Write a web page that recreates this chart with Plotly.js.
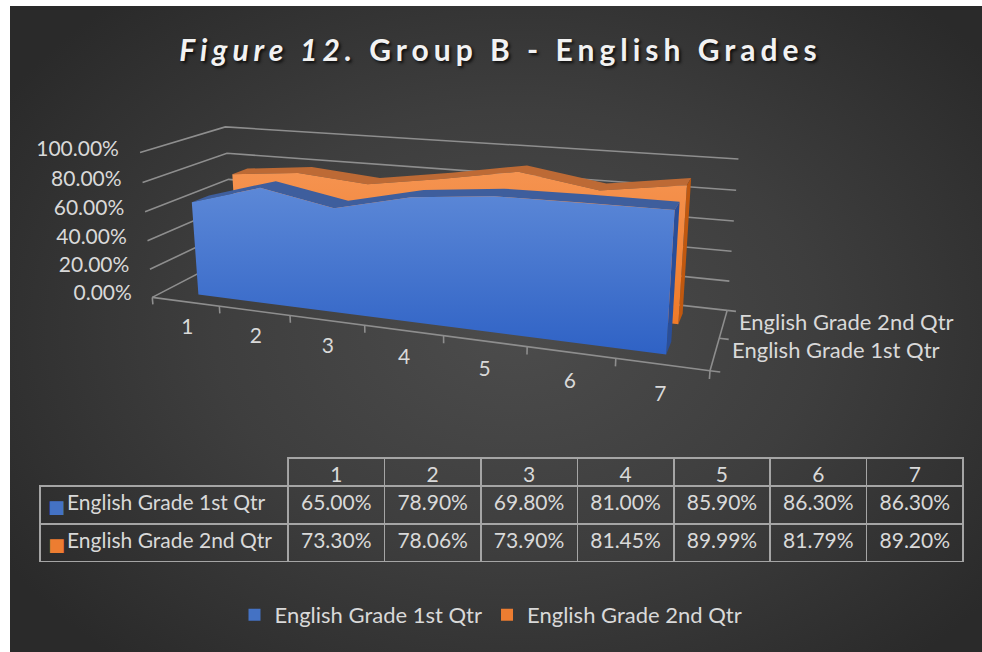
<!DOCTYPE html>
<html>
<head>
<meta charset="utf-8">
<script src="https://cdn.plot.ly/plotly-3.0.1.min.js"></script>
<style>
  html, body { margin:0; padding:0; background:#ffffff; overflow:hidden; }
  #bg { position:absolute; left:10px; top:6px; width:972px; height:646px;
    background: radial-gradient(ellipse 62% 68% at 52% 50%, #4c4c4c 0%, #3e3e3e 50%, #2a2a2a 100%); }
  #chart { position:absolute; left:0; top:0; width:982px; height:652px; }
  .gtitle { letter-spacing: 5px; }
</style>
</head>
<body>
<div id="bg"></div>
<div id="chart"></div>
<script>
// ---------------- data ----------------
const categories = ['1', '2', '3', '4', '5', '6', '7'];
const seriesNames = ['English Grade 1st Qtr', 'English Grade 2nd Qtr'];
const q1Values = [0.65, 0.789, 0.698, 0.81, 0.859, 0.863, 0.863];
const q2Values = [0.733, 0.7806, 0.739, 0.8145, 0.8999, 0.8179, 0.892];
const valueTicks = [0, 0.2, 0.4, 0.6, 0.8, 1.0];

// ---------------- styles / layout constants ----------------
const BLUE = {light:'#5c88d7', dark:'#2f62c5', top:'#3e5e9d', cap:'#2a4e98', legend:'#4472c4'};
const ORANGE = {light:'#f59350', dark:'#ef7a28', top:'#bd6a35', cap:'#c0580f', legend:'#ed7d31'};
const TEXT = '#d9d9d9';
const GRID = '#8e8e8e';
const CLEAR = 'rgba(0,0,0,0)';
const FONT = 'Lato, "Open Sans", sans-serif';
const W = 982, H = 652;
// depth slots of the two ribbons (box depth 0 = front, 1 = back)
const DEPTH = [[0.15, 0.35], [0.65, 0.85]];
const DEPTH_LABEL = [0.3, 0.77];

// calibration of the 3-D box: [u (category), w (depth), h (value), px, py]
const CAL = [
  [0,0,0, 151.7,295], [0,0,1, 140.7,151.7], [0,1,1, 225,128.3], [1,1,1, 738.3,159],
  [1,1,0, 727.5,309], [1,0,0, 708,372],
  [0,1,0.8, 226.7,154.3], [0,1,0.6, 228.3,180.7],
  [1,1,0.8, 736.7,190], [1,1,0.6, 734,220.7], [1,1,0.4, 731.7,250], [1,1,0.2, 729.3,280],
  [0,0,0.8, 142.7,181.7], [0,0,0.6, 145,210.7], [0,0,0.4, 146.7,240],
  [1/7,0,0, 219.5,306], [2/7,0,0, 291,316], [3/7,0,0, 365.7,326], [4/7,0,0, 444.5,337],
  [5/7,0,0, 527.7,348], [6/7,0,0, 614.7,360]
];

function fitCamera(cal) {
  const n = 11, M = Array.from({length: n}, () => new Array(n + 1).fill(0));
  const rows = [];
  cal.forEach(([X, Y, Z, x, y]) => {
    rows.push([[X, Y, Z, 1, 0, 0, 0, 0, -x * X, -x * Y, -x * Z], x]);
    rows.push([[0, 0, 0, 0, X, Y, Z, 1, -y * X, -y * Y, -y * Z], y]);
  });
  rows.forEach(([a, b]) => {
    for (let i = 0; i < n; i++) {
      for (let j = 0; j < n; j++) M[i][j] += a[i] * a[j];
      M[i][n] += a[i] * b;
    }
  });
  for (let c = 0; c < n; c++) {
    let p = c;
    for (let r = c + 1; r < n; r++) if (Math.abs(M[r][c]) > Math.abs(M[p][c])) p = r;
    const t = M[c]; M[c] = M[p]; M[p] = t;
    for (let r = 0; r < n; r++) {
      if (r === c) continue;
      const f = M[r][c] / M[c][c];
      for (let k = c; k <= n; k++) M[r][k] -= f * M[c][k];
    }
  }
  const p = M.map((row, i) => row[n] / row[i]);
  return (X, Y, Z) => {
    const d = p[8] * X + p[9] * Y + p[10] * Z + 1;
    return [(p[0] * X + p[1] * Y + p[2] * Z + p[3]) / d, (p[4] * X + p[5] * Y + p[6] * Z + p[7]) / d];
  };
}
const P = fitCamera(CAL);
const catU = i => (i + 0.5) / categories.length;

function path(points) { // points: list of [u,w,h] or null
  const x = [], y = [];
  points.forEach(pt => {
    if (pt === null) { x.push(null); y.push(null); return; }
    const q = P(pt[0], pt[1], pt[2]); x.push(q[0]); y.push(q[1]);
  });
  return {x, y};
}
function lineTrace(points, color, width) {
  const p = path(points);
  return {type:'scatter', mode:'lines', x:p.x, y:p.y, line:{color, width}, hoverinfo:'skip', showlegend:false, connectgaps:false};
}
function polyTrace(points, color, gradient) {
  const p = path(points);
  const t = {type:'scatter', mode:'lines', x:p.x, y:p.y, fill:'toself', fillcolor:color,
    line:{width:0, color:CLEAR}, hoverinfo:'skip', showlegend:false};
  if (gradient) t.fillgradient = {type:'vertical', colorscale:[[0, gradient[0]], [1, gradient[1]]]};
  return t;
}
function ribbonTraces(vals, depth, col) {
  const [w0, w1] = depth, n = vals.length, out = [];
  // top surface
  const top = [];
  for (let i = 0; i < n - 1; i++) {
    top.push([catU(i), w0, vals[i]], [catU(i + 1), w0, vals[i + 1]], [catU(i + 1), w1, vals[i + 1]], [catU(i), w1, vals[i]], null);
  }
  out.push(polyTrace(top, col.top));
  // right end cap
  const last = n - 1;
  out.push(polyTrace([[catU(last), w0, 0], [catU(last), w1, 0], [catU(last), w1, vals[last]], [catU(last), w0, vals[last]]], col.cap));
  // front face (vertical gradient, lighter at the top)
  const front = [];
  for (let i = 0; i < n; i++) front.push([catU(i), w0, 0]);
  for (let i = n - 1; i >= 0; i--) front.push([catU(i), w0, vals[i]]);
  out.push(polyTrace(front, col.light, [col.dark, col.light]));
  return out;
}
function textTrace(points, texts, position, size) {
  const p = path(points);
  return {type:'scatter', mode:'text', x:p.x, y:p.y, text:texts, textposition:position,
    textfont:{family:FONT, size:size || 21, color:TEXT}, hoverinfo:'skip', showlegend:false, cliponaxis:false};
}
function overlayTable(domainX, domainY, values, font) {
  return {
    type:'table', domain:{x:domainX, y:domainY}, columnwidth:[1],
    header:{values:[''], height:28, fill:{color:CLEAR}, line:{color:CLEAR, width:0}, font:{family:FONT, size:21, color:TEXT}},
    cells:{values:[values], align:'left', height:38, fill:{color:CLEAR}, line:{color:CLEAR, width:0}, font:font}
  };
}

const pct = v => (v * 100).toFixed(2) + '%';

// walls: gridlines on left and back walls
const grid = [];
valueTicks.forEach(h => grid.push([0, 0, h], [0, 1, h], [1, 1, h], null));
// floor: front edge with tick marks, depth axis on the right
const floor = [[0, 0, 0], [1, 0, 0], null, [1, 0, 0], [1, 1, 0], null];
for (let k = 0; k <= categories.length; k++) floor.push([k / categories.length, 0, 0], [k / categories.length, 0, -0.05], null);
[0, 0.5, 1].forEach(w => floor.push([1, w, 0], [1.015, w, 0], null));

const tableDomainY = [1 - 563 / H, 1 - 458 / H];
const keyDomainY = [1 - 568 / H, 1 - 463 / H];

const traces = [
  lineTrace(grid, GRID, 1.6),
  lineTrace(floor, GRID, 1.6),
  ...ribbonTraces(q2Values, DEPTH[1], ORANGE),
  ...ribbonTraces(q1Values, DEPTH[0], BLUE),
  textTrace(valueTicks.map(h => [-0.045, 0, h]), valueTicks.map(pct), 'middle left'),
  textTrace(categories.map((c, i) => [catU(i), 0, -0.19]), categories, 'middle center'),
  textTrace(DEPTH_LABEL.map(w => [1.025, w, 0]), seriesNames, 'middle right', 22),
  // legend entries
  {type:'bar', x:[null], y:[null], name:seriesNames[0], marker:{color:BLUE.legend}, hoverinfo:'skip'},
  {type:'bar', x:[null], y:[null], name:seriesNames[1], marker:{color:ORANGE.legend}, hoverinfo:'skip'},
  // data table (grid + values)
  {
    type:'table',
    domain:{x:[40 / W, 963 / W], y:tableDomainY},
    columnwidth:[248].concat(categories.map(() => 96.4)),
    header:{
      values:[''].concat(categories), align:'center', height:28,
      fill:{color:CLEAR},
      line:{color:[CLEAR].concat(categories.map(() => '#a5a5a5')), width:1.6},
      font:{family:FONT, size:21, color:TEXT}
    },
    cells:{
      values:[seriesNames.map(() => '')].concat(categories.map((c, i) => [pct(q1Values[i]), pct(q2Values[i])])),
      align:'center', height:38,
      fill:{color:CLEAR},
      line:{color:'#a5a5a5', width:1.6},
      font:{family:FONT, size:21, color:TEXT}
    }
  },
  // series names of the table's first column
  overlayTable([59 / W, 300 / W], tableDomainY, seriesNames, {family:FONT, size:21, color:TEXT}),
  // legend keys of the table's first column
  overlayTable([40 / W, 72 / W], keyDomainY, seriesNames.map(() => '■'),
    {family:'DejaVu Sans', size:18, color:[[BLUE.legend, ORANGE.legend]]})
];

const layout = {
  width:W, height:H, margin:{l:0, r:0, t:0, b:0},
  paper_bgcolor:CLEAR, plot_bgcolor:CLEAR,
  title:{
    text:'<i>Figure 12.</i> Group B - English Grades',
    x:500.5 / W, xanchor:'center', y:1 - 50 / H, yanchor:'middle',
    font:{family:FONT, size:30, color:'#f2f2f2', weight:'bold', shadow:'2px 2px 3px rgba(0,0,0,0.75)'}
  },
  showlegend:true,
  legend:{orientation:'h', x:0.5, xanchor:'center', y:1 - 615 / H, yanchor:'middle',
    font:{family:FONT, size:22, color:TEXT}, bgcolor:CLEAR, itemwidth:30},
  xaxis:{range:[0, W], visible:false, fixedrange:true},
  yaxis:{range:[H, 0], visible:false, fixedrange:true}
};

Plotly.newPlot('chart', traces, layout, {displayModeBar:false, staticPlot:true});
</script>
</body>
</html>
